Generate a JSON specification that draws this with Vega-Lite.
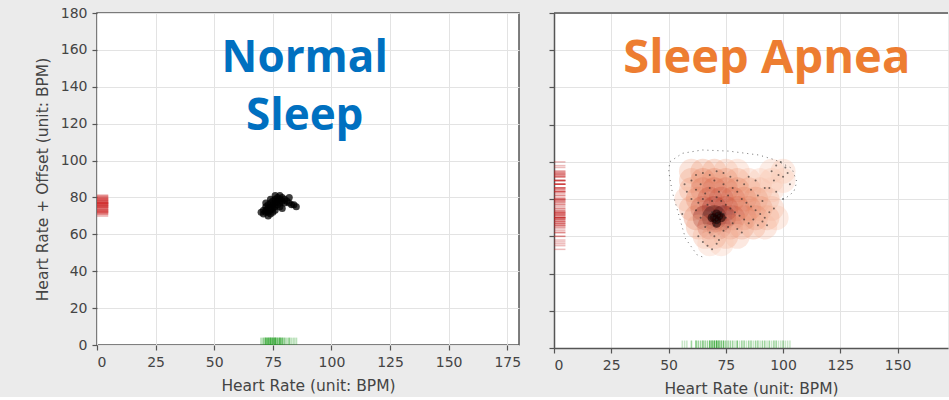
{
  "$schema": "https://vega.github.io/schema/vega-lite/v6.json",
  "background": "#ebebeb",
  "padding": {"left": 34, "top": 5, "right": 0, "bottom": 0},
  "spacing": 35,
  "bounds": "flush",
  "datasets": {
    "normal": [
      {"hr": 71, "hr_offset": 71}, {"hr": 72, "hr_offset": 72}, {"hr": 72, "hr_offset": 73}, {"hr": 73, "hr_offset": 72},
      {"hr": 73, "hr_offset": 74}, {"hr": 74, "hr_offset": 73}, {"hr": 74, "hr_offset": 75}, {"hr": 75, "hr_offset": 74},
      {"hr": 75, "hr_offset": 76}, {"hr": 76, "hr_offset": 75}, {"hr": 76, "hr_offset": 77}, {"hr": 77, "hr_offset": 76},
      {"hr": 77, "hr_offset": 78}, {"hr": 78, "hr_offset": 77}, {"hr": 78, "hr_offset": 79}, {"hr": 79, "hr_offset": 78},
      {"hr": 73, "hr_offset": 76}, {"hr": 74, "hr_offset": 77}, {"hr": 75, "hr_offset": 78}, {"hr": 76, "hr_offset": 79},
      {"hr": 77, "hr_offset": 80}, {"hr": 72, "hr_offset": 75}, {"hr": 71, "hr_offset": 73}, {"hr": 74, "hr_offset": 71},
      {"hr": 76, "hr_offset": 73}, {"hr": 78, "hr_offset": 75}, {"hr": 80, "hr_offset": 77}, {"hr": 80, "hr_offset": 79},
      {"hr": 79, "hr_offset": 80}, {"hr": 81, "hr_offset": 78}, {"hr": 82, "hr_offset": 77}, {"hr": 83, "hr_offset": 76},
      {"hr": 84, "hr_offset": 76}, {"hr": 85, "hr_offset": 75}, {"hr": 82, "hr_offset": 80}, {"hr": 79, "hr_offset": 74},
      {"hr": 75, "hr_offset": 72}, {"hr": 73, "hr_offset": 70}, {"hr": 70, "hr_offset": 72}, {"hr": 76, "hr_offset": 81},
      {"hr": 78, "hr_offset": 81}, {"hr": 74, "hr_offset": 79}, {"hr": 72, "hr_offset": 77}
    ],
    "apnea": [
      {"hr": 70, "hr_offset": 70}, {"hr": 71, "hr_offset": 69}, {"hr": 72, "hr_offset": 71}, {"hr": 69, "hr_offset": 71},
      {"hr": 71, "hr_offset": 72}, {"hr": 73, "hr_offset": 70}, {"hr": 70, "hr_offset": 68}, {"hr": 72, "hr_offset": 68},
      {"hr": 74, "hr_offset": 72}, {"hr": 68, "hr_offset": 70}, {"hr": 71, "hr_offset": 67}, {"hr": 73, "hr_offset": 73},
      {"hr": 69, "hr_offset": 73}, {"hr": 75, "hr_offset": 70}, {"hr": 70, "hr_offset": 66},
      {"hr": 62, "hr_offset": 85}, {"hr": 64, "hr_offset": 88}, {"hr": 66, "hr_offset": 83}, {"hr": 68, "hr_offset": 86},
      {"hr": 70, "hr_offset": 90}, {"hr": 72, "hr_offset": 84}, {"hr": 74, "hr_offset": 88}, {"hr": 76, "hr_offset": 82},
      {"hr": 78, "hr_offset": 86}, {"hr": 80, "hr_offset": 84}, {"hr": 82, "hr_offset": 80}, {"hr": 84, "hr_offset": 78},
      {"hr": 86, "hr_offset": 76}, {"hr": 88, "hr_offset": 74}, {"hr": 90, "hr_offset": 72}, {"hr": 92, "hr_offset": 70},
      {"hr": 94, "hr_offset": 73}, {"hr": 96, "hr_offset": 75}, {"hr": 63, "hr_offset": 78}, {"hr": 65, "hr_offset": 80},
      {"hr": 67, "hr_offset": 77}, {"hr": 69, "hr_offset": 79}, {"hr": 71, "hr_offset": 81}, {"hr": 73, "hr_offset": 79},
      {"hr": 75, "hr_offset": 77}, {"hr": 77, "hr_offset": 75}, {"hr": 79, "hr_offset": 73}, {"hr": 81, "hr_offset": 71},
      {"hr": 83, "hr_offset": 69}, {"hr": 85, "hr_offset": 67}, {"hr": 87, "hr_offset": 69}, {"hr": 89, "hr_offset": 66},
      {"hr": 91, "hr_offset": 68}, {"hr": 93, "hr_offset": 66}, {"hr": 60, "hr_offset": 90}, {"hr": 62, "hr_offset": 93},
      {"hr": 65, "hr_offset": 94}, {"hr": 68, "hr_offset": 93}, {"hr": 71, "hr_offset": 95}, {"hr": 74, "hr_offset": 94},
      {"hr": 77, "hr_offset": 92}, {"hr": 80, "hr_offset": 90}, {"hr": 83, "hr_offset": 88}, {"hr": 86, "hr_offset": 85},
      {"hr": 89, "hr_offset": 82}, {"hr": 91, "hr_offset": 79}, {"hr": 66, "hr_offset": 65}, {"hr": 68, "hr_offset": 62},
      {"hr": 70, "hr_offset": 60}, {"hr": 72, "hr_offset": 58}, {"hr": 74, "hr_offset": 63}, {"hr": 76, "hr_offset": 65},
      {"hr": 78, "hr_offset": 67}, {"hr": 80, "hr_offset": 64}, {"hr": 82, "hr_offset": 62}, {"hr": 64, "hr_offset": 70},
      {"hr": 62, "hr_offset": 74}, {"hr": 60, "hr_offset": 80}, {"hr": 58, "hr_offset": 84},
      {"hr": 95, "hr_offset": 95}, {"hr": 97, "hr_offset": 98}, {"hr": 99, "hr_offset": 100}, {"hr": 101, "hr_offset": 97},
      {"hr": 98, "hr_offset": 93}, {"hr": 96, "hr_offset": 90}, {"hr": 100, "hr_offset": 92}, {"hr": 102, "hr_offset": 94},
      {"hr": 94, "hr_offset": 86}, {"hr": 97, "hr_offset": 84},
      {"hr": 65, "hr_offset": 57}, {"hr": 67, "hr_offset": 55}, {"hr": 69, "hr_offset": 53}, {"hr": 63, "hr_offset": 60},
      {"hr": 71, "hr_offset": 56}, {"hr": 56, "hr_offset": 72}, {"hr": 57, "hr_offset": 88}, {"hr": 85, "hr_offset": 92},
      {"hr": 88, "hr_offset": 90}, {"hr": 92, "hr_offset": 86}, {"hr": 100, "hr_offset": 80}, {"hr": 103, "hr_offset": 88}
    ],
    "density": [
      {"hr": 60, "hr_offset": 95, "d": 0.15}, {"hr": 65, "hr_offset": 95, "d": 0.2}, {"hr": 70, "hr_offset": 95, "d": 0.2},
      {"hr": 75, "hr_offset": 95, "d": 0.15}, {"hr": 80, "hr_offset": 95, "d": 0.1}, {"hr": 95, "hr_offset": 95, "d": 0.08},
      {"hr": 100, "hr_offset": 95, "d": 0.1},
      {"hr": 60, "hr_offset": 90, "d": 0.2}, {"hr": 65, "hr_offset": 90, "d": 0.3}, {"hr": 70, "hr_offset": 90, "d": 0.3},
      {"hr": 75, "hr_offset": 90, "d": 0.25}, {"hr": 80, "hr_offset": 90, "d": 0.2}, {"hr": 85, "hr_offset": 90, "d": 0.12},
      {"hr": 90, "hr_offset": 90, "d": 0.08}, {"hr": 95, "hr_offset": 90, "d": 0.1}, {"hr": 100, "hr_offset": 90, "d": 0.08},
      {"hr": 60, "hr_offset": 85, "d": 0.2}, {"hr": 65, "hr_offset": 85, "d": 0.35}, {"hr": 70, "hr_offset": 85, "d": 0.4},
      {"hr": 75, "hr_offset": 85, "d": 0.35}, {"hr": 80, "hr_offset": 85, "d": 0.3}, {"hr": 85, "hr_offset": 85, "d": 0.2},
      {"hr": 90, "hr_offset": 85, "d": 0.12}, {"hr": 95, "hr_offset": 85, "d": 0.08},
      {"hr": 58, "hr_offset": 80, "d": 0.12}, {"hr": 63, "hr_offset": 80, "d": 0.3}, {"hr": 68, "hr_offset": 80, "d": 0.45},
      {"hr": 73, "hr_offset": 80, "d": 0.45}, {"hr": 78, "hr_offset": 80, "d": 0.4}, {"hr": 83, "hr_offset": 80, "d": 0.3},
      {"hr": 88, "hr_offset": 80, "d": 0.25}, {"hr": 93, "hr_offset": 80, "d": 0.15},
      {"hr": 60, "hr_offset": 75, "d": 0.2}, {"hr": 65, "hr_offset": 75, "d": 0.45}, {"hr": 70, "hr_offset": 75, "d": 0.6},
      {"hr": 75, "hr_offset": 75, "d": 0.5}, {"hr": 80, "hr_offset": 75, "d": 0.4}, {"hr": 85, "hr_offset": 75, "d": 0.3},
      {"hr": 90, "hr_offset": 75, "d": 0.25}, {"hr": 95, "hr_offset": 75, "d": 0.15},
      {"hr": 62, "hr_offset": 70, "d": 0.3}, {"hr": 66, "hr_offset": 70, "d": 0.7}, {"hr": 70, "hr_offset": 70, "d": 1.0},
      {"hr": 74, "hr_offset": 70, "d": 0.85}, {"hr": 78, "hr_offset": 70, "d": 0.5}, {"hr": 83, "hr_offset": 70, "d": 0.35},
      {"hr": 88, "hr_offset": 70, "d": 0.3}, {"hr": 93, "hr_offset": 70, "d": 0.2}, {"hr": 97, "hr_offset": 70, "d": 0.1},
      {"hr": 63, "hr_offset": 65, "d": 0.2}, {"hr": 68, "hr_offset": 65, "d": 0.5}, {"hr": 72, "hr_offset": 65, "d": 0.6},
      {"hr": 77, "hr_offset": 65, "d": 0.35}, {"hr": 82, "hr_offset": 65, "d": 0.25}, {"hr": 87, "hr_offset": 65, "d": 0.2},
      {"hr": 92, "hr_offset": 65, "d": 0.12},
      {"hr": 66, "hr_offset": 60, "d": 0.15}, {"hr": 70, "hr_offset": 60, "d": 0.25}, {"hr": 75, "hr_offset": 60, "d": 0.2},
      {"hr": 80, "hr_offset": 60, "d": 0.12},
      {"hr": 68, "hr_offset": 56, "d": 0.08}, {"hr": 73, "hr_offset": 56, "d": 0.08}
    ],
    "core": [
      {"hr": 70, "hr_offset": 70}, {"hr": 71, "hr_offset": 69}, {"hr": 72, "hr_offset": 71}, {"hr": 69, "hr_offset": 70},
      {"hr": 73, "hr_offset": 70}, {"hr": 71, "hr_offset": 72}, {"hr": 71, "hr_offset": 67}
    ],
    "outline": [
      {"i": 1, "hr": 64.7, "hr_offset": 49}, {"i": 2, "hr": 62.5, "hr_offset": 50}, {"i": 3, "hr": 57.4, "hr_offset": 58.8},
      {"i": 4, "hr": 54.5, "hr_offset": 71.4}, {"i": 5, "hr": 51.6, "hr_offset": 84}, {"i": 6, "hr": 50.1, "hr_offset": 94.7},
      {"i": 7, "hr": 50.5, "hr_offset": 100}, {"i": 8, "hr": 56, "hr_offset": 104.6}, {"i": 9, "hr": 64.7, "hr_offset": 106.4},
      {"i": 10, "hr": 76.3, "hr_offset": 105.8}, {"i": 11, "hr": 89.4, "hr_offset": 103.7}, {"i": 12, "hr": 96.7, "hr_offset": 101},
      {"i": 13, "hr": 103.9, "hr_offset": 96.5}, {"i": 14, "hr": 106, "hr_offset": 89.3}, {"i": 15, "hr": 104.7, "hr_offset": 84},
      {"i": 16, "hr": 101, "hr_offset": 80.4}
    ]
  },
  "hconcat": [
    {
      "width": 422,
      "height": 332,
      "layer": [
        {
          "data": {"name": "normal"},
          "mark": {"type": "rule", "color": "#cc2222", "opacity": 0.3, "strokeWidth": 2},
          "encoding": {
            "x": {"datum": 0, "type": "quantitative", "scale": {"domain": [0, 180], "nice": false},
                  "axis": {"title": "Heart Rate (unit: BPM)", "values": [0, 25, 50, 75, 100, 125, 150, 175]}},
            "x2": {"datum": 4.8},
            "y": {"field": "hr_offset", "type": "quantitative", "scale": {"domain": [0, 180], "nice": false},
                  "axis": {"title": "Heart Rate + Offset (unit: BPM)", "values": [0, 20, 40, 60, 80, 100, 120, 140, 160, 180]}}
          }
        },
        {
          "data": {"name": "normal"},
          "mark": {"type": "rule", "color": "#22a022", "opacity": 0.3, "strokeWidth": 2},
          "encoding": {
            "y": {"datum": 0, "type": "quantitative", "scale": {"domain": [0, 180], "nice": false},
                  "axis": {"title": "Heart Rate + Offset (unit: BPM)", "values": [0, 20, 40, 60, 80, 100, 120, 140, 160, 180]}},
            "y2": {"datum": 4},
            "x": {"field": "hr", "type": "quantitative", "scale": {"domain": [0, 180], "nice": false},
                  "axis": {"title": "Heart Rate (unit: BPM)", "values": [0, 25, 50, 75, 100, 125, 150, 175]}}
          }
        },
        {
          "data": {"name": "normal"},
          "mark": {"type": "circle", "size": 50, "color": "black", "opacity": 0.75},
          "encoding": {
            "x": {"field": "hr", "type": "quantitative", "scale": {"domain": [0, 180], "nice": false},
                  "axis": {"title": "Heart Rate (unit: BPM)", "values": [0, 25, 50, 75, 100, 125, 150, 175]}},
            "y": {"field": "hr_offset", "type": "quantitative", "scale": {"domain": [0, 180], "nice": false},
                  "axis": {"title": "Heart Rate + Offset (unit: BPM)", "values": [0, 20, 40, 60, 80, 100, 120, 140, 160, 180]}}
          }
        },
        {
          "data": {"values": [{}]},
          "mark": {"type": "text", "text": ["Normal", "Sleep"], "lineHeight": 58, "font": "Open Sans", "fontWeight": "bold",
                   "fontSize": 44, "color": "#0070c0", "align": "center", "baseline": "middle"},
          "encoding": {
            "x": {"datum": 88.6, "type": "quantitative", "scale": {"domain": [0, 180], "nice": false},
                  "axis": {"title": "Heart Rate (unit: BPM)", "values": [0, 25, 50, 75, 100, 125, 150, 175]}},
            "y": {"datum": 155, "type": "quantitative", "scale": {"domain": [0, 180], "nice": false},
                  "axis": {"title": "Heart Rate + Offset (unit: BPM)", "values": [0, 20, 40, 60, 80, 100, 120, 140, 160, 180]}}
          }
        }
      ]
    },
    {
      "width": 394,
      "height": 335,
      "view": {"stroke": null, "fill": "white"},
      "layer": [
        {
          "data": {"name": "apnea"},
          "mark": {"type": "rule", "color": "#c41e1e", "opacity": 0.3, "strokeWidth": 1.5},
          "encoding": {
            "x": {"datum": 0, "type": "quantitative", "scale": {"domain": [0, 172], "nice": false},
                  "axis": {"title": "Heart Rate (unit: BPM)", "values": [0, 25, 50, 75, 100, 125, 150], "domain": true, "domainColor": "#555", "domainWidth": 1.5}},
            "x2": {"datum": 5},
            "y": {"field": "hr_offset", "type": "quantitative", "scale": {"domain": [0, 180], "nice": false},
                  "axis": {"title": null, "labels": false, "values": [0, 20, 40, 60, 80, 100, 120, 140, 160, 180], "domain": true, "domainColor": "#555", "domainWidth": 1.5}}
          }
        },
        {
          "data": {"name": "apnea"},
          "mark": {"type": "rule", "color": "#22a022", "opacity": 0.25, "strokeWidth": 1.5},
          "encoding": {
            "y": {"datum": 0, "type": "quantitative", "scale": {"domain": [0, 180], "nice": false},
                  "axis": {"title": null, "labels": false, "values": [0, 20, 40, 60, 80, 100, 120, 140, 160, 180], "domain": true, "domainColor": "#555", "domainWidth": 1.5}},
            "y2": {"datum": 4},
            "x": {"field": "hr", "type": "quantitative", "scale": {"domain": [0, 172], "nice": false},
                  "axis": {"title": "Heart Rate (unit: BPM)", "values": [0, 25, 50, 75, 100, 125, 150], "domain": true, "domainColor": "#555", "domainWidth": 1.5}}
          }
        },
        {
          "data": {"name": "density"},
          "mark": {"type": "circle", "size": 620, "opacity": 0.34},
          "encoding": {
            "x": {"field": "hr", "type": "quantitative", "scale": {"domain": [0, 172], "nice": false},
                  "axis": {"title": "Heart Rate (unit: BPM)", "values": [0, 25, 50, 75, 100, 125, 150], "domain": true, "domainColor": "#555", "domainWidth": 1.5}},
            "y": {"field": "hr_offset", "type": "quantitative", "scale": {"domain": [0, 180], "nice": false},
                  "axis": {"title": null, "labels": false, "values": [0, 20, 40, 60, 80, 100, 120, 140, 160, 180], "domain": true, "domainColor": "#555", "domainWidth": 1.5}},
            "color": {"field": "d", "type": "quantitative", "legend": null,
                      "scale": {"domain": [0, 0.2, 0.4, 0.6, 0.8, 1], "range": ["#fde6dc", "#f0a082", "#d8664a", "#b0362a", "#6e0b0b", "#2a0000"]}}
          }
        },
        {
          "data": {"name": "core"},
          "mark": {"type": "circle", "size": 80, "opacity": 0.6, "color": "#1a0000"},
          "encoding": {
            "x": {"field": "hr", "type": "quantitative", "scale": {"domain": [0, 172], "nice": false},
                  "axis": {"title": "Heart Rate (unit: BPM)", "values": [0, 25, 50, 75, 100, 125, 150], "domain": true, "domainColor": "#555", "domainWidth": 1.5}},
            "y": {"field": "hr_offset", "type": "quantitative", "scale": {"domain": [0, 180], "nice": false},
                  "axis": {"title": null, "labels": false, "values": [0, 20, 40, 60, 80, 100, 120, 140, 160, 180], "domain": true, "domainColor": "#555", "domainWidth": 1.5}}
          }
        },
        {
          "data": {"name": "apnea"},
          "mark": {"type": "circle", "size": 4, "opacity": 0.6, "color": "#222"},
          "encoding": {
            "x": {"field": "hr", "type": "quantitative", "scale": {"domain": [0, 172], "nice": false},
                  "axis": {"title": "Heart Rate (unit: BPM)", "values": [0, 25, 50, 75, 100, 125, 150], "domain": true, "domainColor": "#555", "domainWidth": 1.5}},
            "y": {"field": "hr_offset", "type": "quantitative", "scale": {"domain": [0, 180], "nice": false},
                  "axis": {"title": null, "labels": false, "values": [0, 20, 40, 60, 80, 100, 120, 140, 160, 180], "domain": true, "domainColor": "#555", "domainWidth": 1.5}}
          }
        },
        {
          "data": {"name": "outline"},
          "mark": {"type": "line", "color": "#333", "strokeWidth": 1, "strokeDash": [1, 4], "opacity": 0.7},
          "encoding": {
            "x": {"field": "hr", "type": "quantitative", "scale": {"domain": [0, 172], "nice": false},
                  "axis": {"title": "Heart Rate (unit: BPM)", "values": [0, 25, 50, 75, 100, 125, 150], "domain": true, "domainColor": "#555", "domainWidth": 1.5}},
            "y": {"field": "hr_offset", "type": "quantitative", "scale": {"domain": [0, 180], "nice": false},
                  "axis": {"title": null, "labels": false, "values": [0, 20, 40, 60, 80, 100, 120, 140, 160, 180], "domain": true, "domainColor": "#555", "domainWidth": 1.5}},
            "order": {"field": "i"}
          }
        },
        {
          "data": {"values": [{}]},
          "mark": {"type": "rule", "color": "#555", "strokeWidth": 1.5},
          "encoding": {
            "y": {"datum": 180, "type": "quantitative", "scale": {"domain": [0, 180], "nice": false},
                  "axis": {"title": null, "labels": false, "values": [0, 20, 40, 60, 80, 100, 120, 140, 160, 180], "domain": true, "domainColor": "#555", "domainWidth": 1.5}}
          }
        },
        {
          "data": {"values": [{}]},
          "mark": {"type": "text", "text": "Sleep Apnea", "font": "Open Sans", "fontWeight": "bold",
                   "fontSize": 47, "color": "#ed7d31", "align": "center", "baseline": "alphabetic"},
          "encoding": {
            "x": {"datum": 92.9, "type": "quantitative", "scale": {"domain": [0, 172], "nice": false},
                  "axis": {"title": "Heart Rate (unit: BPM)", "values": [0, 25, 50, 75, 100, 125, 150], "domain": true, "domainColor": "#555", "domainWidth": 1.5}},
            "y": {"datum": 147.5, "type": "quantitative", "scale": {"domain": [0, 180], "nice": false},
                  "axis": {"title": null, "labels": false, "values": [0, 20, 40, 60, 80, 100, 120, 140, 160, 180], "domain": true, "domainColor": "#555", "domainWidth": 1.5}}
          }
        }
      ]
    }
  ],
  "config": {
    "view": {"stroke": "#555", "strokeWidth": 1.5, "fill": "white"},
    "axis": {
      "labelFont": "DejaVu Sans", "labelFontSize": 14, "labelColor": "#444",
      "titleFont": "DejaVu Sans", "titleFontSize": 15.5, "titleFontWeight": "normal", "titleColor": "#444",
      "grid": true, "gridColor": "#e3e3e3", "gridWidth": 1, "tickColor": "#555", "tickSize": 5, "tickWidth": 1.2,
      "domain": false, "labelPadding": 5
    },
    "axisX": {"titlePadding": 9},
    "axisY": {"titlePadding": 10}
  }
}
